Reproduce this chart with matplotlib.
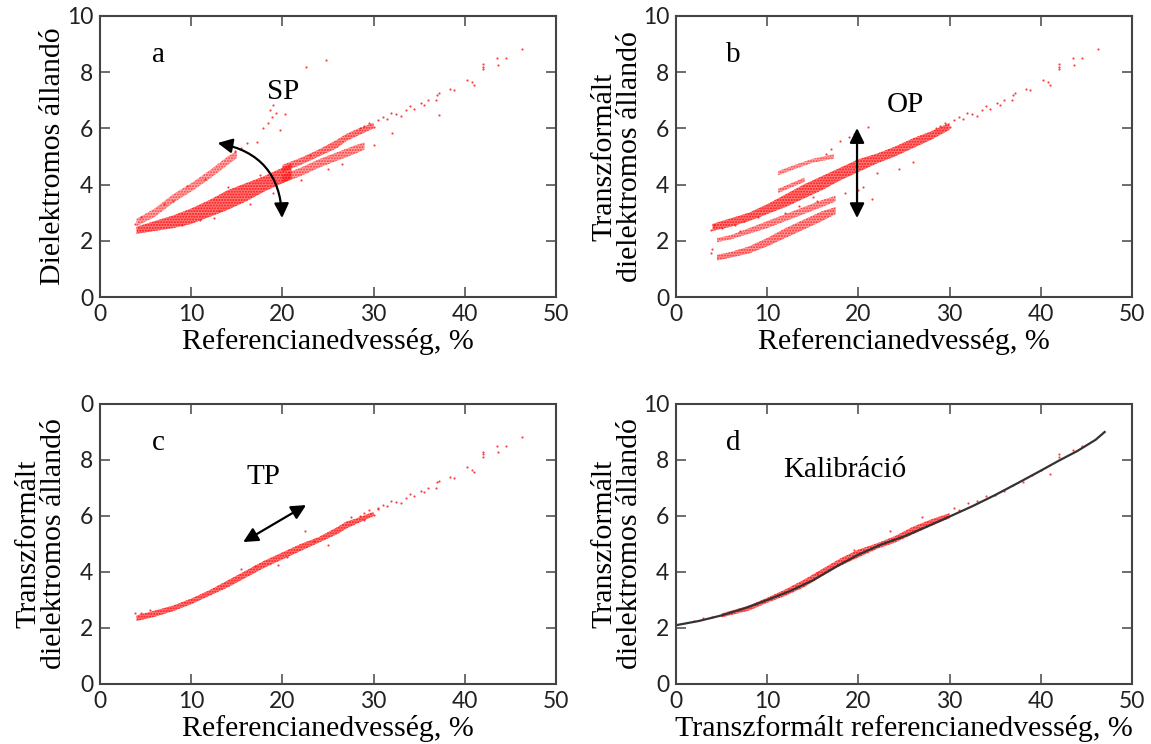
import matplotlib.pyplot as plt

plt.rcParams['hatch.linewidth'] = 1.0

# --- shared sparse points at high moisture (same in panels a, b, c) ---
tail_x = [28.5, 29.5, 30.5, 31.0, 31.9, 32.5, 33.5, 34.0, 34.4, 35.2, 35.5, 36.0,
          36.8, 37.0, 37.2, 38.4, 38.8, 40.2, 40.8, 41.0, 42.0, 42.0, 42.0, 43.5,
          43.6, 44.5, 46.3, 29.0, 30.0, 31.5, 33.0]
tail_y = [6.00, 6.20, 6.30, 6.40, 6.55, 6.50, 6.65, 6.80, 6.70, 6.90, 6.85, 7.00,
          7.00, 7.20, 7.25, 7.40, 7.35, 7.74, 7.65, 7.56, 8.20, 8.10, 8.30, 8.50,
          8.27, 8.51, 8.83, 6.10, 6.05, 6.35, 6.45]

# --- panel a: raw dielectric constant ---
a_main_x = [4, 5, 6, 8, 10, 12, 14, 16, 18, 20, 21]
a_main_lo = [2.25, 2.30, 2.35, 2.45, 2.60, 2.85, 3.10, 3.40, 3.75, 4.05, 4.20]
a_main_hi = [2.50, 2.60, 2.70, 2.90, 3.15, 3.45, 3.80, 4.05, 4.30, 4.60, 4.75]
a_up_x = [20, 22, 24, 26, 27, 28, 30]
a_up_lo = [4.45, 4.70, 5.00, 5.30, 5.55, 5.70, 6.00]
a_up_hi = [4.70, 4.95, 5.25, 5.60, 5.80, 5.95, 6.20]
a_dn_x = [20, 22, 24, 26, 28, 29]
a_dn_lo = [4.05, 4.30, 4.60, 4.85, 5.10, 5.25]
a_dn_hi = [4.35, 4.60, 4.90, 5.15, 5.40, 5.50]
a_sp_x = [4, 6, 8, 10, 12, 14, 15]
a_sp_lo = [2.52, 2.85, 3.35, 3.75, 4.20, 4.70, 4.95]
a_sp_hi = [2.78, 3.15, 3.65, 4.05, 4.50, 5.00, 5.20]
a_pts_x = [16.1, 17.2, 17.9, 18.6, 18.9, 19.3, 19.7, 20.3, 18.4, 19.0, 22.55, 24.8,
           37.2, 32.0, 30.0, 15.5, 14.8, 3.8, 4.5, 7.0, 9.5, 11.0, 13.0, 22.0, 25.0,
           8.0, 9.0, 11.5, 12.5, 14.0, 16.5, 17.5, 19.0, 23.0, 26.5]
a_pts_y = [5.48, 5.50, 6.00, 6.65, 6.40, 6.55, 5.94, 6.50, 6.20, 6.85, 8.18, 8.45,
           6.49, 5.83, 5.42, 5.30, 5.20, 2.60, 2.85, 3.30, 3.95, 2.75, 3.05, 4.15, 4.55,
           3.40, 2.55, 4.20, 2.80, 3.90, 3.30, 4.35, 3.70, 5.05, 4.75]

# --- panel b: offset-transformed ---
b_main_x = [4, 6, 8, 10, 12, 14, 16, 18, 20, 22, 24, 26, 28, 30]
b_main_lo = [2.35, 2.50, 2.70, 2.95, 3.20, 3.50, 3.80, 4.15, 4.45, 4.75, 5.00, 5.30, 5.60, 5.95]
b_main_hi = [2.60, 2.80, 3.00, 3.30, 3.65, 4.00, 4.30, 4.60, 4.90, 5.10, 5.35, 5.65, 5.90, 6.20]
b_mid_x = [4.5, 6, 8, 10, 12, 14, 16, 17.5]
b_mid_lo = [1.95, 2.05, 2.25, 2.45, 2.70, 2.95, 3.20, 3.40]
b_mid_hi = [2.10, 2.20, 2.45, 2.70, 2.95, 3.20, 3.45, 3.60]
b_low_x = [4.5, 6, 8, 10, 12, 14, 16, 17.5]
b_low_lo = [1.30, 1.40, 1.55, 1.80, 2.10, 2.40, 2.70, 2.95]
b_low_hi = [1.50, 1.60, 1.80, 2.10, 2.45, 2.75, 3.05, 3.20]
b_st1_x = [11.2, 13.0, 15.0, 17.3]
b_st1_lo = [4.33, 4.55, 4.78, 4.92]
b_st1_hi = [4.48, 4.70, 4.92, 5.08]
b_st2_x = [11.2, 12.5, 14.1]
b_st2_lo = [3.70, 3.88, 4.10]
b_st2_hi = [3.85, 4.03, 4.25]
b_pts_x = [18.0, 19.0, 19.5, 20.0, 20.5, 21.0, 21.5, 22.0, 24.5, 26.0, 3.8, 4.2, 5.0,
           6.5, 7.5, 9.0, 16.5, 17.0, 18.5, 15.5, 4.0, 3.8, 7.0, 12.0, 13.5, 15.0]
b_pts_y = [5.55, 5.70, 5.80, 3.80, 3.90, 6.05, 3.50, 4.40, 4.55, 4.80, 2.40, 2.55, 2.45,
           2.55, 2.70, 2.85, 5.10, 5.25, 3.70, 3.40, 1.70, 1.55, 2.35, 3.00, 3.25, 3.55]

# --- panel c: temperature-transformed ---
c_x = [4, 6, 8, 10, 12, 14, 16, 18, 20, 22, 24, 26, 27, 28, 30]
c_lo = [2.25, 2.40, 2.60, 2.85, 3.15, 3.45, 3.80, 4.15, 4.45, 4.75, 5.05, 5.35, 5.55, 5.70, 6.00]
c_hi = [2.45, 2.62, 2.80, 3.05, 3.35, 3.70, 4.05, 4.40, 4.70, 5.00, 5.25, 5.60, 5.80, 5.90, 6.15]
c_pts_x = [3.8, 4.5, 5.5, 15.5, 17.0, 19.5, 20.5, 22.5, 23.5, 25.0, 27.5, 29.0, 30.5]
c_pts_y = [2.55, 2.55, 2.65, 4.10, 4.20, 4.25, 4.55, 5.45, 5.10, 4.95, 5.95, 5.85, 6.25]

# --- panel d: calibration ---
d_line_x = [0, 2.5, 5, 7.5, 10, 12.5, 15, 17.5, 20, 22.5, 25, 27.5, 30, 32.5, 35,
            37.5, 40, 42, 44, 46, 47]
d_line_y = [2.10, 2.25, 2.45, 2.70, 3.00, 3.32, 3.70, 4.18, 4.62, 4.98, 5.27, 5.62,
            5.98, 6.35, 6.75, 7.18, 7.62, 7.98, 8.32, 8.72, 9.00]
d_x = [5, 8, 10, 12, 14, 16, 18, 20, 22, 24, 26, 28, 30]
d_lo = [2.38, 2.62, 2.90, 3.15, 3.45, 3.85, 4.22, 4.52, 4.82, 5.05, 5.35, 5.65, 5.92]
d_hi = [2.52, 2.80, 3.08, 3.38, 3.72, 4.10, 4.48, 4.80, 5.02, 5.28, 5.62, 5.88, 6.10]
d_pts_x = [30.5, 31.0, 32.0, 33.0, 34.0, 35.0, 36.0, 37.0, 38.0, 39.0, 40.0, 41.0,
           42.0, 42.0, 43.5, 44.5, 15.5, 19.5, 23.5, 27.0, 3.0, 4.0, 2.0]
d_pts_y = [6.30, 6.20, 6.45, 6.55, 6.70, 6.75, 6.90, 7.10, 7.20, 7.45, 7.65, 7.50,
           8.20, 8.10, 8.35, 8.50, 3.95, 4.80, 5.45, 5.95, 2.35, 2.40, 2.25]

xticks = [0, 10, 20, 30, 40, 50]
yticks = [0, 2, 4, 6, 8, 10]

label_font = {'family': 'Liberation Serif', 'size': 21.5}
note_font = {'family': 'Liberation Serif', 'size': 21}
RED = '#ff1010'

fig = plt.figure(figsize=(11.51, 7.44), dpi=100)
W, H = 1151, 744


def make_axes(left, top, right, bottom):
    return fig.add_axes([left / W, 1 - bottom / H, (right - left) / W, (bottom - top) / H])


def style(ax, ylab, ylab_x, xlab, ytick_labels=None):
    ax.set_xlim(0, 50)
    ax.set_ylim(0, 10)
    ax.set_xticks(xticks)
    ax.set_yticks(yticks)
    if ytick_labels is not None:
        ax.set_yticklabels(ytick_labels)
    ax.tick_params(direction='in', top=True, right=True, length=7, width=1.2,
                   colors='#555555', labelcolor='#222222', labelsize=16.5, pad=5)
    for lab in ax.get_xticklabels() + ax.get_yticklabels():
        lab.set_fontfamily('Lato')
    for sp in ax.spines.values():
        sp.set_color('#444444')
        sp.set_linewidth(1.5)
    ax.set_ylabel(ylab, fontdict=label_font, linespacing=1.0)
    ax.yaxis.set_label_coords(ylab_x, 0.5)
    ax.set_xlabel(xlab, fontdict=label_font)
    ax.xaxis.set_label_coords(0.5, -0.112)


def band(ax, x, lo, hi, alpha=0.6):
    # dense point cloud: light wash plus stipple
    ax.fill_between(x, lo, hi, facecolor=RED, alpha=alpha * 0.7, lw=0)
    ax.fill_between(x, lo, hi, facecolor='none', edgecolor=RED, hatch='......',
                    lw=0, alpha=min(1.0, alpha + 0.2))


def dots(ax, x, y):
    ax.scatter(x, y, s=2.5, color=RED, alpha=0.8, lw=0)


ytitle2 = 'Transzformált\ndielektromos állandó'
xtitle = 'Referencianedvesség, %'

# a
ax = make_axes(100, 16, 556, 297)
band(ax, a_main_x, a_main_lo, a_main_hi, 0.8)
band(ax, a_up_x, a_up_lo, a_up_hi, 0.65)
band(ax, a_dn_x, a_dn_lo, a_dn_hi, 0.55)
band(ax, a_sp_x, a_sp_lo, a_sp_hi, 0.5)
dots(ax, tail_x, tail_y)
dots(ax, a_pts_x, a_pts_y)
ax.text(6.4, 8.6, 'a', fontdict=note_font, ha='center', va='center')
ax.text(20.1, 7.3, 'SP', fontdict=note_font, ha='center', va='center')
ax.annotate('', xy=(19.96, 2.81), xytext=(12.9, 5.48),
            arrowprops=dict(arrowstyle='<|-|>', color='black', lw=1.6,
                            mutation_scale=22, connectionstyle='arc3,rad=-0.4',
                            shrinkA=0, shrinkB=0))
style(ax, 'Dielektromos állandó', -0.075, xtitle)

# b
ax = make_axes(676, 16, 1132, 297)
band(ax, b_main_x, b_main_lo, b_main_hi, 0.8)
band(ax, b_mid_x, b_mid_lo, b_mid_hi, 0.55)
band(ax, b_low_x, b_low_lo, b_low_hi, 0.6)
band(ax, b_st1_x, b_st1_lo, b_st1_hi, 0.5)
band(ax, b_st2_x, b_st2_lo, b_st2_hi, 0.55)
dots(ax, tail_x, tail_y)
dots(ax, b_pts_x, b_pts_y)
ax.text(6.25, 8.6, 'b', fontdict=note_font, ha='center', va='center')
ax.text(25.1, 6.85, 'OP', fontdict=note_font, ha='center', va='center')
ax.annotate('', xy=(19.85, 2.81), xytext=(19.85, 6.01),
            arrowprops=dict(arrowstyle='<|-|>', color='black', lw=1.6,
                            mutation_scale=22, shrinkA=0, shrinkB=0))
style(ax, ytitle2, -0.072, xtitle)

# c
ax = make_axes(100, 404, 556, 684)
band(ax, c_x, c_lo, c_hi, 0.8)
dots(ax, tail_x, tail_y)
dots(ax, c_pts_x, c_pts_y)
ax.text(6.4, 8.6, 'c', fontdict=note_font, ha='center', va='center')
ax.text(17.9, 7.4, 'TP', fontdict=note_font, ha='center', va='center')
ax.annotate('', xy=(22.6, 6.39), xytext=(15.7, 5.07),
            arrowprops=dict(arrowstyle='<|-|>', color='black', lw=1.6,
                            mutation_scale=22, shrinkA=0, shrinkB=0))
style(ax, ytitle2, -0.072, xtitle, ['0', '2', '4', '6', '8', '0'])

# d
ax = make_axes(676, 404, 1132, 684)
band(ax, d_x, d_lo, d_hi, 0.8)
dots(ax, d_pts_x, d_pts_y)
ax.plot(d_line_x, d_line_y, color='#333333', lw=1.6)
ax.text(6.25, 8.6, 'd', fontdict=note_font, ha='center', va='center')
ax.text(18.5, 7.65, 'Kalibráció', fontdict=note_font, ha='center', va='center')
style(ax, ytitle2, -0.072, 'Transzformált referencianedvesség, %')

fig.savefig('out.png', dpi=100)
